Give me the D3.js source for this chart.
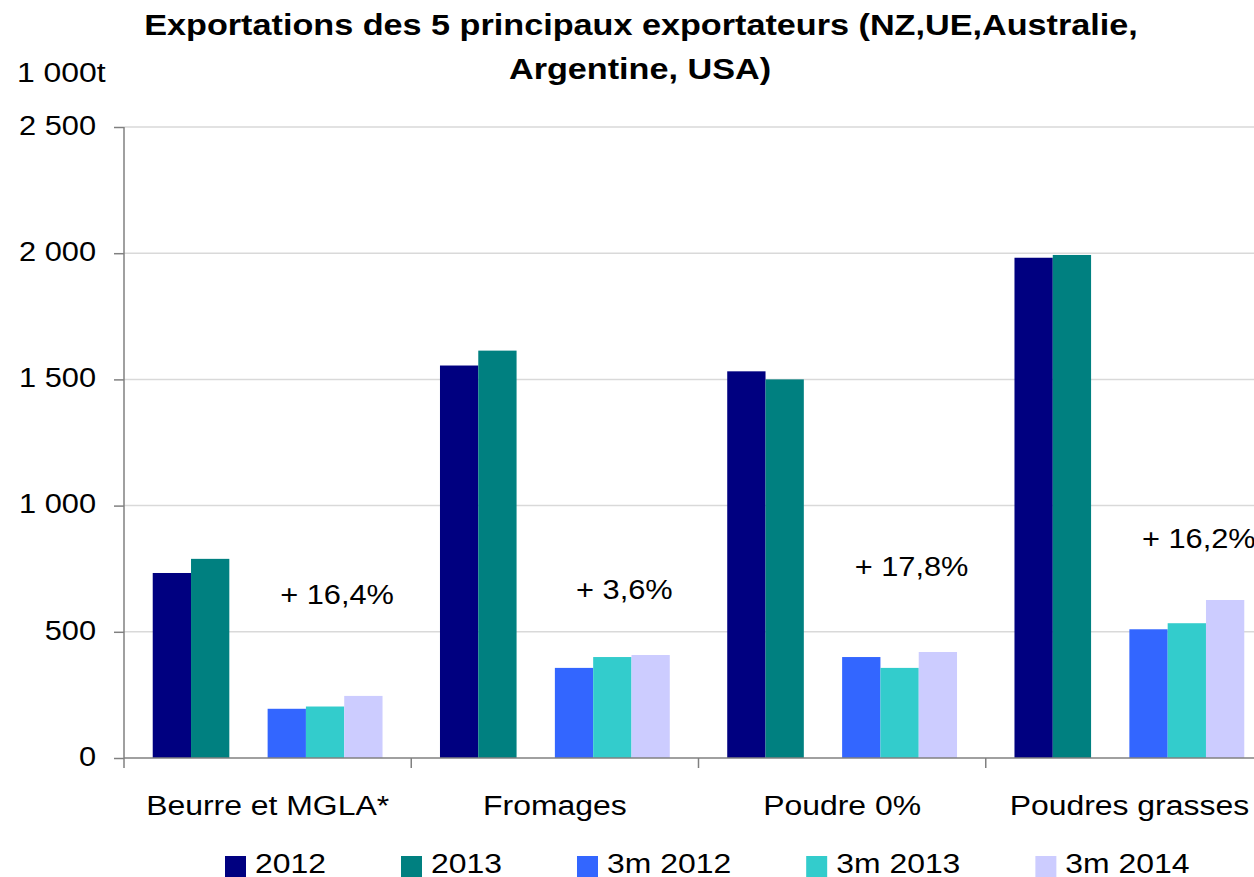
<!DOCTYPE html>
<html>
<head>
<meta charset="utf-8">
<script src="https://cdn.jsdelivr.net/npm/d3@7"></script>
<style>
  body { margin: 0; background: #fff; }
  svg { display: block; font-family: Arial, "Liberation Sans", sans-serif; }
</style>
</head>
<body>
<div id="chart"></div>
<script>
// data (1 000 t)
var categories = ["Beurre et MGLA*", "Fromages", "Poudre 0%", "Poudres grasses"];
var seriesNames = ["2012", "2013", "3m 2012", "3m 2013", "3m 2014"];
var v2012 = [733, 1555, 1532, 1982];
var v2013 = [789, 1614, 1500, 1993];
var v3m2012 = [195, 357, 400, 510];
var v3m2013 = [204, 400, 357, 534];
var v3m2014 = [246, 408, 420, 626];
var growthLabels = ["+ 16,4%", "+ 3,6%", "+ 17,8%", "+ 16,2%"];
var yTicks = [0, 500, 1000, 1500, 2000, 2500];

var colors = ["#000080", "#008080", "#3366FF", "#33CCCC", "#CCCCFF"];
var seriesValues = [v2012, v2013, v3m2012, v3m2013, v3m2014];
// slots inside a group: two yearly bars, an empty slot, three 3-month bars
var slots = ["2012", "2013", "_gap", "3m 2012", "3m 2013", "3m 2014"];

var W = 1254, H = 877;
var SX = 1.14; // the source text is a bit wider than plain Arial
var plotLeft = 124, plotRight = 1273, plotTop = 127, plotBottom = 758;

var svg = d3.select("#chart").append("svg")
    .attr("width", W)
    .attr("height", H);

var x0 = d3.scaleBand().domain(categories).range([plotLeft, plotRight]).padding(0);
var x1 = d3.scaleBand().domain(slots).range([0, x0.bandwidth()])
    .paddingInner(0).paddingOuter(0.75);
var y = d3.scaleLinear().domain([0, 2500]).range([plotBottom, plotTop]);

function fmt(d) { return d3.format(",")(d).replace(/,/g, " "); }

// gridlines
svg.append("g").selectAll("line")
    .data(yTicks.filter(function (d) { return d > 0; }))
    .enter().append("line")
    .attr("x1", plotLeft).attr("x2", W)
    .attr("y1", function (d) { return y(d); })
    .attr("y2", function (d) { return y(d); })
    .attr("stroke", "#d9d9d9")
    .attr("stroke-width", 1.5);

// bars
seriesValues.forEach(function (vals, si) {
    svg.append("g").selectAll("rect")
        .data(vals)
        .enter().append("rect")
        .attr("x", function (d, i) { return x0(categories[i]) + x1(seriesNames[si]); })
        .attr("y", function (d) { return y(d); })
        .attr("width", x1.bandwidth())
        .attr("height", function (d) { return y(0) - y(d); })
        .attr("fill", colors[si]);
});

// y axis
var yAxis = svg.append("g")
    .attr("transform", "translate(" + plotLeft + ",0)")
    .call(d3.axisLeft(y).tickValues(yTicks).tickSize(10).tickFormat(fmt));
yAxis.select(".domain").attr("stroke", "#808080").attr("stroke-width", 1.5)
    .attr("d", "M0," + plotTop + "V" + (plotBottom + 10));
yAxis.selectAll(".tick line").attr("stroke", "#808080").attr("stroke-width", 1.5);
yAxis.selectAll(".tick text")
    .attr("x", 0)
    .attr("dy", "0.27em")
    .attr("transform", "translate(-28,0) scale(" + SX + ",1)")
    .style("font-size", "27px")
    .attr("fill", "#000");

// x axis baseline with group boundary ticks
svg.append("line")
    .attr("x1", plotLeft).attr("x2", W)
    .attr("y1", y(0)).attr("y2", y(0))
    .attr("stroke", "#808080").attr("stroke-width", 1.5);
var bounds = categories.map(function (c) { return x0(c); }).concat([x0.range()[1]]);
svg.append("g").selectAll("line")
    .data(bounds.slice(1))
    .enter().append("line")
    .attr("x1", function (d) { return d; }).attr("x2", function (d) { return d; })
    .attr("y1", y(0)).attr("y2", y(0) + 10)
    .attr("stroke", "#808080").attr("stroke-width", 1.5);

// category labels
svg.append("g").selectAll("text")
    .data(categories)
    .enter().append("text")
    .attr("transform", function (d) {
        return "translate(" + (x0(d) + x0.bandwidth() / 2) + ",815) scale(" + SX + ",1)";
    })
    .attr("text-anchor", "middle")
    .style("font-size", "28px")
    .text(function (d) { return d; });

// growth annotations, placed at a value height above the 3-month bars
var labelAt = [610, 630, 721, 832];
svg.append("g").selectAll("text")
    .data(growthLabels)
    .enter().append("text")
    .attr("transform", function (d, i) {
        var cx = x0(categories[i]) + x1("3m 2013") + x1.bandwidth() / 2 + 12;
        return "translate(" + cx + "," + y(labelAt[i]) + ") scale(" + SX + ",1)";
    })
    .attr("text-anchor", "middle")
    .style("font-size", "27px")
    .text(function (d) { return d; });

// title
var title = svg.append("g").attr("font-weight", "bold").style("font-size", "30px");
title.append("text")
    .attr("transform", "translate(641,35) scale(" + SX + ",1)")
    .attr("text-anchor", "middle")
    .text("Exportations des 5 principaux exportateurs (NZ,UE,Australie,");
title.append("text")
    .attr("transform", "translate(640,79) scale(" + SX + ",1)")
    .attr("text-anchor", "middle")
    .text("Argentine, USA)");

// unit
svg.append("text")
    .attr("transform", "translate(17,82) scale(" + SX + ",1)")
    .style("font-size", "28px")
    .text("1 000t");

// legend
var legend = svg.append("g");
var lx = 225;
seriesNames.forEach(function (name, i) {
    legend.append("rect")
        .attr("x", lx).attr("y", 856)
        .attr("width", 21).attr("height", 21)
        .attr("fill", colors[i]);
    var t = legend.append("text")
        .attr("transform", "translate(" + (lx + 30) + ",873) scale(" + SX + ",1)")
        .style("font-size", "28px")
        .text(name);
    lx += 30 + t.node().getComputedTextLength() * SX + 75;
});
</script>
</body>
</html>
